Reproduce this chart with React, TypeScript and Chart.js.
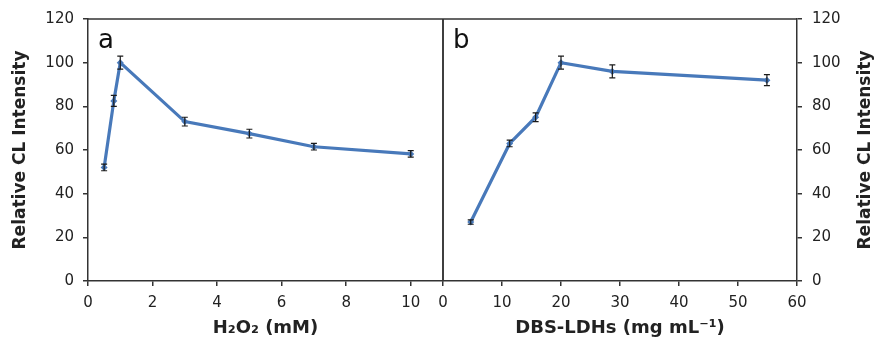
import React, { useEffect, useRef } from "react";
import { Chart, registerables } from "chart.js";

Chart.register(...registerables);

// ---- Data ----
// Panel a: H2O2 concentration (mM) vs relative CL intensity
const h2o2Conc = [0.5, 0.8, 1, 3, 5, 7, 10];
const h2o2Intensity = [52, 82.5, 100, 73, 67.5, 61.5, 58.2];
const h2o2Error = [1.5, 2.5, 3, 2, 2, 1.5, 1.5];

// Panel b: DBS-LDHs concentration (mg mL-1) vs relative CL intensity
const ldhConc = [4.7, 11.3, 15.7, 20, 28.7, 54.9];
const ldhIntensity = [27, 63, 75, 100, 96, 92];
const ldhError = [1, 1.5, 2, 3, 3, 2.5];

const panelLabels = ["a", "b"];
const yTitle = "Relative CL Intensity";
const xTitleA = "H₂O₂ (mM)";
const xTitleB = "DBS-LDHs (mg mL⁻¹)";

const LINE_COLOR = "#4879BA";
const AXIS_COLOR = "#333333";
const TEXT_COLOR = "#222222";
const FONT = "'DejaVu Sans', sans-serif";

const errorBarPlugin = {
  id: "errorBars",
  afterDatasetsDraw(chart: any) {
    const ctx = chart.ctx;
    const yScale = chart.scales.y;
    chart.data.datasets.forEach((ds: any, di: number) => {
      const errs: number[] | undefined = ds.errors;
      if (!errs) return;
      const meta = chart.getDatasetMeta(di);
      ctx.save();
      ctx.strokeStyle = "#1a1a1a";
      ctx.lineWidth = 1.2;
      meta.data.forEach((el: any, i: number) => {
        const v = ds.data[i].y;
        const e = errs[i];
        const top = yScale.getPixelForValue(v + e);
        const bot = yScale.getPixelForValue(v - e);
        const x = el.x;
        ctx.beginPath();
        ctx.moveTo(x, top);
        ctx.lineTo(x, bot);
        ctx.moveTo(x - 3, top);
        ctx.lineTo(x + 3, top);
        ctx.moveTo(x - 3, bot);
        ctx.lineTo(x + 3, bot);
        ctx.stroke();
      });
      ctx.restore();
    });
  },
};

const framePlugin = {
  id: "frame",
  afterDraw(chart: any, _args: any, opts: any) {
    const { ctx, chartArea } = chart;
    const { left, right, top, bottom } = chartArea;
    ctx.save();
    ctx.strokeStyle = AXIS_COLOR;
    ctx.lineWidth = 1.5;
    ctx.beginPath();
    ctx.moveTo(left, top);
    ctx.lineTo(right, top);
    if (opts.side === "right") {
      ctx.moveTo(right, top);
      ctx.lineTo(right, bottom);
    } else {
      ctx.moveTo(left, top);
      ctx.lineTo(left, bottom);
    }
    ctx.stroke();
    // panel letter
    ctx.fillStyle = "#111";
    ctx.font = `26px ${FONT}`;
    ctx.textAlign = "left";
    ctx.textBaseline = "alphabetic";
    ctx.fillText(opts.label, left + opts.labelDx, top + 29);
    // right-hand axis title, reading bottom-to-top like the left one
    if (opts.rightTitle) {
      ctx.fillStyle = TEXT_COLOR;
      ctx.font = `bold 17px ${FONT}`;
      ctx.textAlign = "center";
      ctx.textBaseline = "middle";
      ctx.translate(chart.width - 9, (top + bottom) / 2);
      ctx.rotate(-Math.PI / 2);
      ctx.fillText(opts.rightTitle, 0, 0);
    }
    ctx.restore();
  },
};

function makeOptions(cfg: {
  xMax: number;
  xStep: number;
  xTitle: string;
  yPos: "left" | "right";
  frameSide: "left" | "right";
  label: string;
  labelDx: number;
  padding: any;
}): any {
  const tickFont = { family: FONT, size: 15 };
  const titleFont = { family: FONT, size: 17, weight: "bold" as const };
  const isLeft = cfg.yPos === "left";
  return {
    responsive: false,
    animation: false,
    layout: { padding: cfg.padding },
    plugins: {
      legend: { display: false },
      tooltip: { enabled: false },
      frame: {
        side: cfg.frameSide,
        label: cfg.label,
        labelDx: cfg.labelDx,
        rightTitle: isLeft ? null : yTitle,
      },
    },
    scales: {
      x: {
        type: "linear",
        min: 0,
        max: cfg.xMax,
        ticks: {
          stepSize: cfg.xStep,
          includeBounds: false,
          padding: 8,
          font: tickFont,
          color: TEXT_COLOR,
        },
        grid: {
          drawOnChartArea: false,
          drawTicks: true,
          tickLength: 5,
          color: AXIS_COLOR,
          lineWidth: 1.5,
        },
        border: { display: true, color: AXIS_COLOR, width: 1.5 },
        title: {
          display: true,
          text: cfg.xTitle,
          font: { ...titleFont, size: 18 },
          color: TEXT_COLOR,
          padding: { top: 0, bottom: 7 },
        },
        afterFit(scale: any) {
          scale.height = 65;
        },
      },
      y: {
        type: "linear",
        position: cfg.yPos,
        min: 0,
        max: 120,
        ticks: {
          stepSize: 20,
          padding: isLeft ? 9 : 10,
          font: tickFont,
          color: TEXT_COLOR,
        },
        grid: {
          drawOnChartArea: false,
          drawTicks: true,
          tickLength: 5,
          color: AXIS_COLOR,
          lineWidth: 1.5,
        },
        border: { display: true, color: AXIS_COLOR, width: 1.5 },
        title: {
          display: isLeft,
          text: yTitle,
          font: { ...titleFont, lineHeight: 1.2 },
          color: TEXT_COLOR,
          padding: { top: 10, bottom: 10 },
        },
        afterFit(scale: any) {
          scale.width = isLeft ? 88 : 78;
        },
      },
    },
  };
}

function dataset(xs: number[], ys: number[], errs: number[]): any {
  return {
    data: xs.map((x, i) => ({ x, y: ys[i] })),
    errors: errs,
    borderColor: LINE_COLOR,
    backgroundColor: LINE_COLOR,
    borderWidth: 3.2,
    pointStyle: "rectRot",
    pointRadius: 3.5,
    pointBorderWidth: 0,
    tension: 0,
  };
}

export default function App() {
  const leftRef = useRef<HTMLCanvasElement | null>(null);
  const rightRef = useRef<HTMLCanvasElement | null>(null);

  useEffect(() => {
    const left = new Chart(leftRef.current as HTMLCanvasElement, {
      type: "line",
      data: { datasets: [dataset(h2o2Conc, h2o2Intensity, h2o2Error)] },
      options: makeOptions({
        xMax: 11,
        xStep: 2,
        xTitle: xTitleA,
        yPos: "left",
        frameSide: "right",
        label: panelLabels[0],
        labelDx: 10,
        padding: { top: 19, right: 7, left: 0, bottom: 0 },
      }),
      plugins: [errorBarPlugin, framePlugin],
    } as any);
    const right = new Chart(rightRef.current as HTMLCanvasElement, {
      type: "line",
      data: { datasets: [dataset(ldhConc, ldhIntensity, ldhError)] },
      options: makeOptions({
        xMax: 60,
        xStep: 10,
        xTitle: xTitleB,
        yPos: "right",
        frameSide: "left",
        label: panelLabels[1],
        labelDx: 10,
        padding: { top: 19, right: 0, left: 13, bottom: 0 },
      }),
      plugins: [errorBarPlugin, framePlugin],
    } as any);
    return () => {
      left.destroy();
      right.destroy();
    };
  }, []);

  return (
    <div
      style={{
        position: "absolute",
        left: 0,
        top: 0,
        width: 875,
        height: 346,
        background: "#fff",
      }}
    >
      <canvas
        ref={leftRef}
        width={450}
        height={346}
        style={{ position: "absolute", left: 0, top: 0, width: 450, height: 346 }}
      />
      <canvas
        ref={rightRef}
        width={445}
        height={346}
        style={{ position: "absolute", left: 430, top: 0, width: 445, height: 346 }}
      />
    </div>
  );
}
